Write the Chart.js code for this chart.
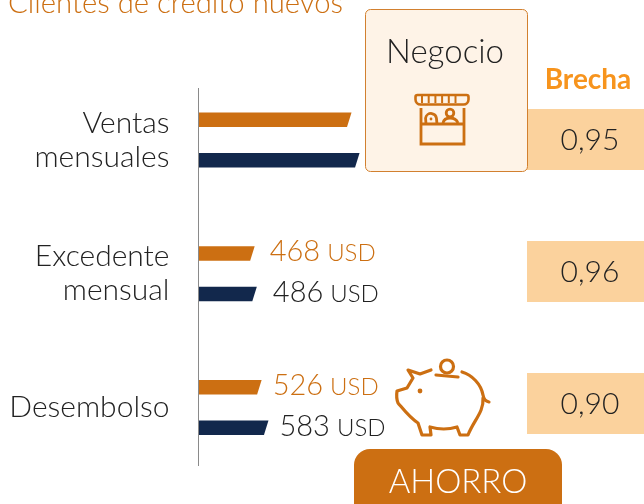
<!DOCTYPE html>
<html><head><meta charset="utf-8">
<style>html,body{margin:0;padding:0;background:#fff}#w{position:relative;width:644px;height:504px}</style>
<script src="https://cdn.jsdelivr.net/npm/chart.js@4"></script></head>
<body><div id="w"><canvas id="c" width="644" height="504"></canvas></div>
<script>
const categories = [['Ventas','mensuales'],['Excedente','mensual'],['Desembolso']];
const seriesOrange = [1275, 468, 526];
const seriesNavy = [1342, 486, 583];
const brecha = ['0,95','0,96','0,90'];
const showLabels = [false, true, true];
const labelGaps = [[0,15,11],[0,16,11]];
const unit = 'USD';
const ORANGE='#cc6f12', NAVY='#12284c', INK='#222222';
const FF='Lato, "Open Sans", sans-serif';

function slantDraw(ctx){
  const h=this.height/2, s=4.5;
  ctx.save();ctx.fillStyle=this.options.backgroundColor;ctx.beginPath();
  ctx.moveTo(this.base,this.y-h);ctx.lineTo(this.x,this.y-h);ctx.lineTo(this.x-s,this.y+h);ctx.lineTo(this.base,this.y+h);
  ctx.closePath();ctx.fill();ctx.restore();
}
const slantPlugin={id:'slant',beforeDatasetsDraw(chart){
  chart.data.datasets.forEach((d,i)=>chart.getDatasetMeta(i).data.forEach(el=>{el.draw=slantDraw;}));
}};
function txt(ctx,s,x,y,font,color,align){ctx.font=font;ctx.fillStyle=color;ctx.textAlign=align||'left';ctx.textBaseline='alphabetic';ctx.fillText(s,x,y);}
function rr(ctx,x,y,w,h,r){ctx.beginPath();ctx.roundRect(x,y,w,h,r);}
function store(ctx){
  ctx.save();ctx.strokeStyle=ORANGE;ctx.fillStyle=ORANGE;ctx.lineWidth=2.6;
  rr(ctx,415.5,95,53,9.5,[2,2,5,5]);ctx.stroke();
  ctx.lineWidth=2;for(let x=422;x<=462;x+=6.7){ctx.beginPath();ctx.moveTo(x,96);ctx.lineTo(x,103);ctx.stroke();}
  ctx.lineWidth=2.8;
  ctx.beginPath();ctx.moveTo(421,108);ctx.lineTo(421,144);ctx.lineTo(464,144);ctx.lineTo(464,108);ctx.moveTo(421,124);ctx.lineTo(464,124);ctx.stroke();
  ctx.beginPath();ctx.arc(450,113,3.8,0,Math.PI*2);ctx.stroke();
  ctx.beginPath();ctx.moveTo(443,123);ctx.quadraticCurveTo(444,118,450,118);ctx.quadraticCurveTo(456,118,458,123);ctx.stroke();
  ctx.beginPath();ctx.moveTo(426,124);ctx.arc(431,119,5.5,Math.PI*1.05,Math.PI*1.95);ctx.lineTo(437,124);ctx.stroke();
  ctx.beginPath();ctx.arc(431,119,1.4,0,Math.PI*2);ctx.fill();
  ctx.restore();
}
function pig(ctx){
  ctx.save();ctx.strokeStyle=ORANGE;ctx.fillStyle=ORANGE;ctx.lineWidth=3.2;ctx.lineCap='round';ctx.lineJoin='round';
  ctx.beginPath();ctx.arc(447,366.5,6.5,0,Math.PI*2);ctx.stroke();
  ctx.beginPath();ctx.moveTo(436,375);ctx.lineTo(458,377);ctx.stroke();
  ctx.beginPath();
  ctx.moveTo(462,372);ctx.bezierCurveTo(472,375,481,384,483,395);
  ctx.quadraticCurveTo(484,401,489,402);ctx.moveTo(483,398);
  ctx.bezierCurveTo(484,412,474,420,468,435);ctx.lineTo(460,435);ctx.lineTo(457,427);
  ctx.quadraticCurveTo(444,431,430,427);ctx.lineTo(431,435);ctx.lineTo(422,435);ctx.lineTo(418,423);
  ctx.bezierCurveTo(410,418,404,410,398,403);ctx.quadraticCurveTo(396,398,397,391);
  ctx.lineTo(407,388);ctx.lineTo(413,378);ctx.lineTo(408,370);ctx.lineTo(420,374);ctx.lineTo(431,370);ctx.stroke();
  ctx.beginPath();ctx.arc(420,391,2.4,0,Math.PI*2);ctx.fill();
  ctx.restore();
}
const decor={id:'decor',afterDatasetsDraw(chart){
  const ctx=chart.ctx,x=chart.scales.x;
  ctx.save();
  ctx.strokeStyle='#8a8a8a';ctx.lineWidth=1;ctx.beginPath();ctx.moveTo(x.getPixelForValue(0),88);ctx.lineTo(x.getPixelForValue(0),466);ctx.stroke();
  txt(ctx,'Clientes de crédito nuevos',8,13,'300 29.3px '+FF,ORANGE);
  const tops=[109,241,373];
  brecha.forEach((b,i)=>{ctx.fillStyle='#fbd29d';ctx.fillRect(527,tops[i],117,61);
    txt(ctx,b,590,tops[i]+41,'300 30px '+FF,INK,'center');});
  txt(ctx,'Brecha',588,89,'700 28px '+FF,'#f7941d','center');
  rr(ctx,365.5,9.5,162,162,5);ctx.fillStyle='#fef3e7';ctx.fill();ctx.strokeStyle='#d2802f';ctx.lineWidth=1;ctx.stroke();
  txt(ctx,'Negocio',445,63,'300 33px '+FF,INK,'center');
  store(ctx);pig(ctx);
  chart.data.datasets.forEach((d,di)=>{
    const col=di===0?ORANGE:INK;
    chart.getDatasetMeta(di).data.forEach((el,i)=>{
      if(!showLabels[i])return;
      const sx=x.getPixelForValue(d.data[i])+labelGaps[di][i], by=el.y+8;
      const s=String(d.data[i]);
      txt(ctx,s,sx,by,'300 29px '+FF,col);
      const w=ctx.measureText(s).width;
      txt(ctx,unit,sx+w+7,by,'300 24px '+FF,col);
    });
  });
  rr(ctx,354,449,208,70,16);ctx.fillStyle=ORANGE;ctx.fill();
  txt(ctx,'AHORRO',458,493,'300 33px '+FF,'#ffffff','center');
  ctx.restore();
}};
new Chart(document.getElementById('c'),{
  type:'bar',
  data:{labels:categories,datasets:[
    {label:'Serie naranja',data:seriesOrange,backgroundColor:ORANGE},
    {label:'Serie azul',data:seriesNavy,backgroundColor:NAVY}
  ]},
  options:{
    indexAxis:'y',responsive:false,animation:false,
    categoryPercentage:0.606,barPercentage:0.358,
    layout:{padding:{top:73,bottom:29.5,left:0,right:0}},
    plugins:{legend:{display:false},tooltip:{enabled:false},title:{display:false}},
    scales:{
      x:{display:false,min:0,max:3712},
      y:{afterFit(s){s.width=198.5;s.paddingTop=0;s.paddingBottom=0;},
        grid:{display:false,drawTicks:false},border:{display:false},
        ticks:{padding:29,color:INK,autoSkip:false,font:{family:FF,size:30,weight:'300',lineHeight:1.13}}}
    }
  },
  plugins:[slantPlugin,decor]
});
</script></body></html>
